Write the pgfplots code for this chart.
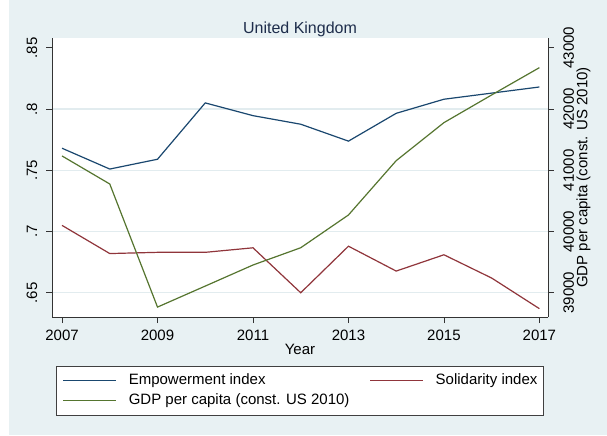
\documentclass[border=0pt]{standalone}
\usepackage{fontspec}
\setmainfont{Liberation Sans}
\usepackage{pgfplots}
\pgfplotsset{compat=1.18}
\definecolor{stnavy}{RGB}{26,71,111}
\definecolor{stmaroon}{RGB}{144,53,59}
\definecolor{stgreen}{RGB}{85,117,47}
\definecolor{stbg}{RGB}{232,241,243}
\definecolor{stgrid}{RGB}{226,236,239}
\definecolor{sttitle}{RGB}{30,45,75}
\newcommand{\stfont}{\fontsize{15bp}{18bp}\selectfont}

\begin{document}
\begin{tikzpicture}
\useasboundingbox (-52bp,-119bp) rectangle (555bp,317bp);
\fill[white] (-52bp,-119bp) rectangle (555bp,317bp);
\fill[stbg] (-43bp,-118bp) rectangle (555bp,317bp);

% left axis: the two indices
\begin{axis}[
  at={(0,0)}, anchor=south west,
  scale only axis, width=496bp, height=279bp,
  xmin=2006.79, xmax=2017.18,
  ymin=0.6302, ymax=0.8580,
  axis x line*=bottom, axis y line*=left,
  axis line style={black!80, line width=0.8bp},
  axis background/.style={fill=white},
  xtick={2007,2009,...,2017},
  xticklabels={2007,2009,2011,2013,2015,2017},
  ytick={0.65,0.7,0.75,0.8},
  yticklabels={.65,.7,.75,.8},
  extra y ticks={0.85}, extra y tick labels={.85},
  extra y tick style={grid=none},
  ymajorgrids,
  major grid style={stgrid, line width=1.2bp},
  tick align=outside, major tick length=6bp,
  tick style={black!80, line width=0.8bp},
  xticklabel style={font=\stfont, anchor=base, yshift=-17bp},
  yticklabel style={font=\stfont, xshift=-9bp, rotate=90, anchor=base},
  xlabel={Year},
  xlabel style={font=\stfont, at={(axis description cs:0.5,-0.1344)}, anchor=base, inner sep=0pt},
  title={United Kingdom},
  every axis title shift=0pt,
  title style={font=\fontsize{16bp}{19bp}\selectfont, color=sttitle, at={(axis description cs:0.5,1.0168)}, anchor=base, inner sep=0pt},
  clip=false,
]
\addplot[stnavy, line width=1.2bp] table {
x y
2007 0.768
2008 0.751
2009 0.759
2010 0.805
2011 0.7946
2012 0.7876
2013 0.7738
2014 0.7965
2015 0.808
2016 0.813
2017 0.818
};
\addplot[stmaroon, line width=1.2bp] table {
x y
2007 0.705
2008 0.682
2009 0.683
2010 0.683
2011 0.6867
2012 0.650
2013 0.688
2014 0.6677
2015 0.681
2016 0.662
2017 0.637
};
\end{axis}

% right axis: GDP per capita
\begin{axis}[
  at={(0,0)}, anchor=south west,
  scale only axis, width=496bp, height=279bp,
  xmin=2006.79, xmax=2017.18,
  ymin=38604, ymax=43160,
  hide x axis,
  axis y line*=right,
  axis line style={black!80, line width=0.8bp},
  ytick={39000,40000,41000,42000,43000},
  yticklabels={39000,40000,41000,42000,43000},
  scaled y ticks=false,
  tick align=outside, major tick length=6bp,
  tick style={black!80, line width=0.8bp},
  yticklabel style={font=\stfont, xshift=20bp, rotate=90, anchor=base},
  ylabel={GDP per capita (const. US 2010)},
  ylabel style={font=\stfont, at={(axis description cs:1.0794,0.5)}, rotate=0, anchor=base, inner sep=0pt},
  legend columns=2,
  legend style={at={(axis description cs:0.5,-0.1756)}, anchor=north,
    draw=black!75, line width=0.8bp, fill=white,
    inner xsep=6bp, inner ysep=4.5bp, font=\stfont,
    nodes={inner xsep=0pt, inner ysep=2.5bp, text height=11bp, text depth=4bp},
    /tikz/every odd column/.append style={column sep=12bp},
    /tikz/every even column/.append style={column sep=20bp}},
  legend cell align=left,
  legend image code/.code={\draw[#1] (0bp,0bp) -- (53bp,0bp);},
  clip=false,
]
\addlegendimage{stnavy, line width=1.2bp}
\addlegendentry{Empowerment index}
\addlegendimage{stmaroon, line width=1.2bp}
\addlegendentry{Solidarity index}
\addplot[stgreen, line width=1.2bp] table {
x y
2007 41234
2008 40776
2009 38766
2010 39109
2011 39453
2012 39735
2013 40270
2014 41157
2015 41778
2016 42230
2017 42676
};
\addlegendentry{GDP per capita (const. US 2010)}
\end{axis}
\end{tikzpicture}
\end{document}
